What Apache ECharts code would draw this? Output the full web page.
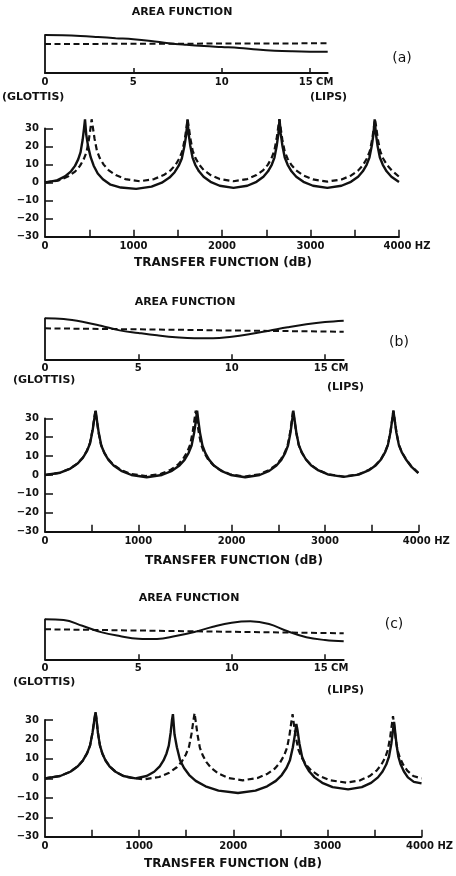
<!DOCTYPE html>
<html>
<head>
<meta charset="utf-8">
<script src="https://cdn.jsdelivr.net/npm/echarts@6/dist/echarts.min.js"></script>
<style>
  html, body { margin: 0; padding: 0; background: #fff; }
  #chart { width: 456px; height: 876px; }
</style>
</head>
<body>
<div id="chart"></div>
<script>
// Vocal-tract area functions (glottis -> lips) and their transfer functions.

// Distance along the tract, cm
const areaX = [0, 1, 2, 3, 4, 5, 6, 7, 8, 9, 10, 11, 12, 13, 14, 15, 16];

// (a) area functions
const areaA_solid  = [3.93, 3.9, 3.83, 3.72, 3.6, 3.49, 3.31, 3.08, 2.92, 2.79, 2.69, 2.59, 2.43, 2.31, 2.24, 2.2, 2.19];
const areaA_dashed = [3.0, 3.0, 3.01, 3.01, 3.02, 3.02, 3.02, 3.03, 3.03, 3.04, 3.04, 3.05, 3.05, 3.06, 3.06, 3.07, 3.07];
// (b) area functions
const areaB_solid  = [3.97, 3.9, 3.64, 3.25, 2.8, 2.55, 2.32, 2.13, 2.03, 2.03, 2.19, 2.45, 2.77, 3.1, 3.39, 3.61, 3.74];
const areaB_dashed = [3.0, 2.98, 2.96, 2.94, 2.92, 2.9, 2.88, 2.86, 2.84, 2.81, 2.79, 2.77, 2.75, 2.73, 2.71, 2.69, 2.67];
// (c) area functions
const areaC_solid  = [4.0, 3.93, 3.35, 2.72, 2.33, 2.06, 2.03, 2.33, 2.73, 3.26, 3.66, 3.8, 3.53, 2.8, 2.2, 1.93, 1.8];
const areaC_dashed = [3.0, 2.98, 2.95, 2.93, 2.9, 2.88, 2.85, 2.83, 2.8, 2.78, 2.75, 2.73, 2.7, 2.68, 2.65, 2.63, 2.6];

// Transfer functions: [frequency Hz, level dB]
const transferA_solid = [
  [0,0],[136,1.2],[226,3.4],[294,6.2],[339,9.2],[375,12.8],[402,16.8],[425,23.5],[441,30],[452,35],
  [466,26.5],[487,20.0],[516,14.0],[550,9.3],[596,5.0],[654,1.8],[741,-1.2],[857,-2.8],[1030,-3.5],
  [1204,-2.3],[1320,-0.1],[1407,2.7],[1465,5.7],[1511,9.3],[1546,13.3],[1575,20.0],[1596,26.5],[1610,35],
  [1623,27.0],[1641,20.5],[1667,13.8],[1698,9.8],[1740,6.2],[1792,3.2],[1870,0.4],[1974,-1.8],[2130,-3],
  [2286,-1.8],[2390,0.4],[2468,3.2],[2520,6.2],[2562,9.8],[2593,13.8],[2619,20.5],[2637,27.0],[2650,35],
  [2664,27.0],[2682,20.5],[2709,13.8],[2742,9.8],[2785,6.2],[2839,3.2],[2920,0.4],[3028,-1.8],[3190,-3],
  [3350,-1.8],[3457,0.4],[3538,3.2],[3591,6.2],[3634,9.8],[3666,13.8],[3693,20.5],[3712,27.0],[3725,35],
  [3739,27.0],[3757,20.5],[3784,13.8],[3817,9.8],[3860,6.2],[3914,3.2],[4000,0.3]
];
const transferA_dashed = [
  [0,0],[158,1.2],[264,3.4],[343,6.2],[395,9.2],[437,12.8],[469,16.8],[495,23.5],[514,30],[527,35],
  [541,30.5],[560,24.2],[587,17.5],[619,13.5],[663,9.9],[717,6.9],[799,4.1],[907,1.9],[1070,0.7],
  [1233,1.9],[1341,4.1],[1422,6.9],[1477,9.9],[1520,13.5],[1552,17.5],[1580,24.2],[1599,30.5],[1612,35],
  [1625,30.5],[1643,24.2],[1669,17.5],[1700,13.5],[1742,9.9],[1793,6.9],[1871,4.1],[1975,1.9],[2130,0.7],
  [2285,1.9],[2389,4.1],[2467,6.9],[2519,9.9],[2560,13.5],[2591,17.5],[2617,24.2],[2635,30.5],[2648,35],
  [2662,30.5],[2681,24.0],[2708,17.3],[2740,13.3],[2784,9.7],[2838,6.7],[2919,3.9],[3027,1.7],[3190,0.5],
  [3352,1.7],[3460,3.9],[3540,6.7],[3594,9.7],[3637,13.3],[3670,17.3],[3697,24.0],[3716,30.5],[3729,35],
  [3743,30.5],[3761,24.0],[3788,17.3],[3821,13.3],[3864,9.7],[3918,6.7],[4000,3.2]
];
const transferB_solid = [
  [0,0],[163,1.2],[272,3.4],[353,6.2],[407,9.2],[451,12.8],[483,16.8],[510,23.5],[529,30],[543,34],
  [557,28.8],[576,22.3],[603,15.6],[636,11.6],[680,8.0],[735,5.0],[817,2.2],[926,0.0],[1090,-1.2],
  [1252,0.0],[1360,2.2],[1441,5.0],[1495,8.0],[1538,11.6],[1571,15.6],[1598,22.3],[1617,28.8],[1630,34],
  [1643,28.8],[1661,22.3],[1687,15.6],[1718,11.6],[1759,8.0],[1810,5.0],[1888,2.2],[1991,0.0],[2145,-1.2],
  [2300,0.0],[2403,2.2],[2480,5.0],[2532,8.0],[2573,11.6],[2604,15.6],[2630,22.3],[2648,28.8],[2661,34],
  [2675,29.0],[2693,22.5],[2720,15.8],[2753,11.8],[2796,8.2],[2850,5.2],[2931,2.4],[3038,0.2],[3200,-1.0],
  [3360,0.2],[3467,2.4],[3546,5.2],[3600,8.2],[3642,11.8],[3674,15.8],[3701,22.5],[3720,29.0],[3733,34],
  [3747,29.0],[3765,22.5],[3792,15.8],[3825,11.8],[3868,8.2],[3922,4.6],[4000,1.0]
];
const transferB_dashed = [
  [0,0],[162,1.2],[270,3.4],[351,6.2],[405,9.2],[448,12.8],[481,16.8],[508,23.5],[527,30],[540,34],
  [554,29.4],[572,22.9],[599,16.2],[632,12.2],[675,8.6],[729,5.6],[810,2.8],[918,0.6],[1080,-0.6],
  [1241,0.6],[1348,2.8],[1428,5.6],[1481,8.6],[1524,12.2],[1556,16.2],[1583,22.9],[1602,29.4],[1615,34],
  [1628,29.2],[1647,22.7],[1673,16.0],[1704,12.0],[1746,8.4],[1799,5.4],[1878,2.6],[1983,0.4],[2140,-0.8],
  [2295,0.4],[2399,2.6],[2477,5.4],[2529,8.4],[2570,12.0],[2601,16.0],[2627,22.7],[2645,29.2],[2658,34],
  [2672,29.2],[2691,22.7],[2718,16.0],[2750,12.0],[2794,8.4],[2848,5.4],[2929,2.6],[3037,0.4],[3200,-0.8],
  [3360,0.4],[3467,2.6],[3546,5.4],[3600,8.4],[3642,12.0],[3674,16.0],[3701,22.7],[3720,29.2],[3733,34],
  [3747,29.2],[3765,22.7],[3792,16.0],[3825,12.0],[3868,8.4],[3922,4.8],[4000,1.2]
];
const transferC_solid = [
  [0,0],[161,1.2],[269,3.4],[349,6.2],[403,9.2],[446,12.8],[478,16.8],[505,23.5],[524,30],[537,34],
  [548,30],[562,23.5],[584,16.8],[609,12.8],[643,9.2],[685,6.2],[749,3.4],[833,1.2],[960,0],
  [1080,1.2],[1160,3.4],[1219,6.2],[1259,9.2],[1291,12.8],[1315,16.8],[1335,23.5],[1349,30],[1359,33],
  [1376,22.5],[1401,16.0],[1435,9.3],[1477,5.3],[1532,1.7],[1601,-1.3],[1705,-4.1],[1843,-6.3],[2050,-7.5],
  [2236,-6.3],[2360,-4.1],[2453,-1.3],[2515,1.7],[2565,5.3],[2602,9.3],[2633,16.0],[2655,22.5],[2670,28],
  [2684,24.3],[2703,17.8],[2731,11.1],[2764,7.1],[2808,3.5],[2863,0.5],[2945,-2.3],[3055,-4.5],[3220,-5.7],
  [3366,-4.5],[3464,-2.3],[3537,0.5],[3586,3.5],[3625,7.1],[3654,11.1],[3679,17.8],[3696,24.3],[3708,29],
  [3719,24.3],[3733,17.8],[3754,11.1],[3779,7.1],[3813,3.5],[3855,0.5],[3918,-1.8],[4000,-2.6]
];
const transferC_dashed = [
  [0,0],[161,1.2],[269,3.4],[349,6.2],[403,9.2],[446,12.8],[478,16.8],[505,23.5],[524,30],[537,34],
  [548,30],[562,23.5],[584,16.8],[609,12.8],[643,9.2],[685,6.2],[749,3.4],[833,1.2],[920,0.2],[1050,-0.5],
  [1212,0.7],[1320,2.9],[1400,5.7],[1454,8.7],[1497,12.3],[1530,16.3],[1557,23.0],[1576,29.5],[1589,33.5],
  [1602,29.0],[1620,22.5],[1645,15.8],[1676,11.8],[1717,8.2],[1768,5.2],[1845,2.4],[1947,0.2],[2100,-1.0],
  [2259,0.2],[2365,2.4],[2445,5.2],[2498,8.2],[2540,11.8],[2572,15.8],[2598,22.5],[2617,29.0],[2630,33],
  [2644,27.8],[2664,21.3],[2693,14.6],[2727,10.6],[2773,7.0],[2830,4.0],[2915,1.2],[3029,-1.0],[3200,-2.2],
  [3349,-1.0],[3449,1.2],[3523,4.0],[3573,7.0],[3613,10.6],[3642,14.6],[3667,21.3],[3685,27.8],[3697,32],
  [3708,27.8],[3723,21.3],[3744,14.6],[3770,10.6],[3805,7.0],[3848,4.0],[3912,1.2],[4000,0]
];

// Tick positions and labels
const lengthTicks = [5, 10, 15];
const lengthLabels = [0, 5, 10, 15];
const freqTicks = [500, 1000, 1500, 2000, 2500, 3000, 3500, 4000];
const freqLabels = [0, 1000, 2000, 3000, 4000];
const dbTicks = [-30, -20, -10, 0, 10, 20, 30];

const INK = '#111';
const FONT = 'DejaVu Sans';

const grids = [
  { left: 45, top: 35,    width: 282.7, height: 38 },
  { left: 45, top: 128.3, width: 354,   height: 108.4 },
  { left: 45, top: 318.3, width: 298.7, height: 41 },
  { left: 45, top: 418.3, width: 373.3, height: 113.4 },
  { left: 45, top: 619.3, width: 298.7, height: 40 },
  { left: 45, top: 720,   width: 377.7, height: 116.7 }
];

const labelFont = { color: INK, fontFamily: FONT, fontWeight: 'bold', fontSize: 10 };

function lengthAxis(gridIndex) {
  return {
    type: 'value', gridIndex: gridIndex, min: 0, max: 16, interval: 5,
    axisLine: { onZero: false, lineStyle: { color: INK, width: 1.8 } },
    axisTick: { inside: true, length: 5, customValues: lengthTicks, lineStyle: { color: INK, width: 1.5 } },
    splitLine: { show: false },
    axisLabel: Object.assign({
      margin: 4, customValues: lengthLabels,
      formatter: function (v) { return v === 15 ? '{sp| }15 CM' : String(v); },
      rich: { sp: { width: 12 } }
    }, labelFont)
  };
}
function areaAxis(gridIndex) {
  return {
    type: 'value', gridIndex: gridIndex, min: 0, max: 'dataMax',
    axisLine: { show: true, lineStyle: { color: INK, width: 1.8 } },
    axisTick: { show: false }, axisLabel: { show: false }, splitLine: { show: false }
  };
}
function freqAxis(gridIndex) {
  return {
    type: 'value', gridIndex: gridIndex, min: 0, max: 4000, interval: 500,
    axisLine: { onZero: false, lineStyle: { color: INK, width: 1.8 } },
    axisTick: { inside: true, length: 7, customValues: freqTicks, lineStyle: { color: INK, width: 1.5 } },
    splitLine: { show: false },
    axisLabel: Object.assign({
      margin: 5, customValues: freqLabels,
      formatter: function (v) { return v === 4000 ? '{sp| }4000 HZ' : String(v); },
      rich: { sp: { width: 16 } }
    }, labelFont)
  };
}
function dbAxis(gridIndex) {
  return {
    type: 'value', gridIndex: gridIndex, min: -30, max: 30, interval: 10,
    axisLine: { show: true, onZero: false, lineStyle: { color: INK, width: 1.8 } },
    axisTick: { show: true, inside: true, length: 8, customValues: dbTicks, lineStyle: { color: INK, width: 1.5 } },
    splitLine: { show: false },
    axisLabel: Object.assign({
      margin: 6,
      formatter: function (v) { return v < 0 ? '\u2212' + Math.abs(v) : String(v); }
    }, labelFont)
  };
}

function pairs(xs, ys) { return xs.map(function (x, i) { return [x, ys[i]]; }); }

// Transfer curves stay polylines so the resonance peaks keep their sharp cusps;
// area profiles are gently smoothed.
function curve(idx, data, dashed, width, smooth) {
  return {
    type: 'line', xAxisIndex: idx, yAxisIndex: idx, data: data,
    showSymbol: false, symbol: 'none', smooth: smooth || false, clip: false, silent: true,
    z: dashed ? 2 : 3,
    lineStyle: { color: INK, width: width, type: dashed ? [6, 3.5] : 'solid' }
  };
}

function text(str, x, y, size, align, weight) {
  return {
    type: 'text', x: x, y: y, silent: true,
    style: {
      text: str, fill: INK, fontFamily: FONT, fontSize: size,
      fontWeight: weight || 'bold', align: align || 'center', verticalAlign: 'middle'
    }
  };
}

const option = {
  backgroundColor: '#fff',
  animation: false,
  grid: grids,
  xAxis: [lengthAxis(0), freqAxis(1), lengthAxis(2), freqAxis(3), lengthAxis(4), freqAxis(5)],
  yAxis: [areaAxis(0), dbAxis(1), areaAxis(2), dbAxis(3), areaAxis(4), dbAxis(5)],
  series: [
    curve(0, pairs(areaX, areaA_dashed), true, 2),
    curve(0, pairs(areaX, areaA_solid), false, 2, 0.4),
    curve(1, transferA_dashed, true, 2.2),
    curve(1, transferA_solid, false, 2.4),
    curve(2, pairs(areaX, areaB_dashed), true, 2),
    curve(2, pairs(areaX, areaB_solid), false, 2, 0.4),
    curve(3, transferB_dashed, true, 2.2),
    curve(3, transferB_solid, false, 2.4),
    curve(4, pairs(areaX, areaC_dashed), true, 2),
    curve(4, pairs(areaX, areaC_solid), false, 2, 0.4),
    curve(5, transferC_dashed, true, 2.2),
    curve(5, transferC_solid, false, 2.4)
  ],
  graphic: [
    text('AREA FUNCTION', 182, 12, 11),
    text('(a)', 402, 58, 14, 'center', 'normal'),
    text('(GLOTTIS)', 2, 97, 11, 'left'),
    text('(LIPS)', 310, 97, 11, 'left'),
    text('TRANSFER FUNCTION (dB)', 223, 263, 12),

    text('AREA FUNCTION', 185, 302, 11),
    text('(b)', 399, 342, 14, 'center', 'normal'),
    text('(GLOTTIS)', 13, 380, 11, 'left'),
    text('(LIPS)', 327, 387, 11, 'left'),
    text('TRANSFER FUNCTION (dB)', 234, 561, 12),

    text('AREA FUNCTION', 189, 598, 11),
    text('(c)', 394, 624, 14, 'center', 'normal'),
    text('(GLOTTIS)', 13, 682, 11, 'left'),
    text('(LIPS)', 327, 690, 11, 'left'),
    text('TRANSFER FUNCTION (dB)', 233, 864, 12)
  ]
};

const chart = echarts.init(document.getElementById('chart'), null, { renderer: 'canvas' });
chart.setOption(option);
</script>
</body>
</html>
